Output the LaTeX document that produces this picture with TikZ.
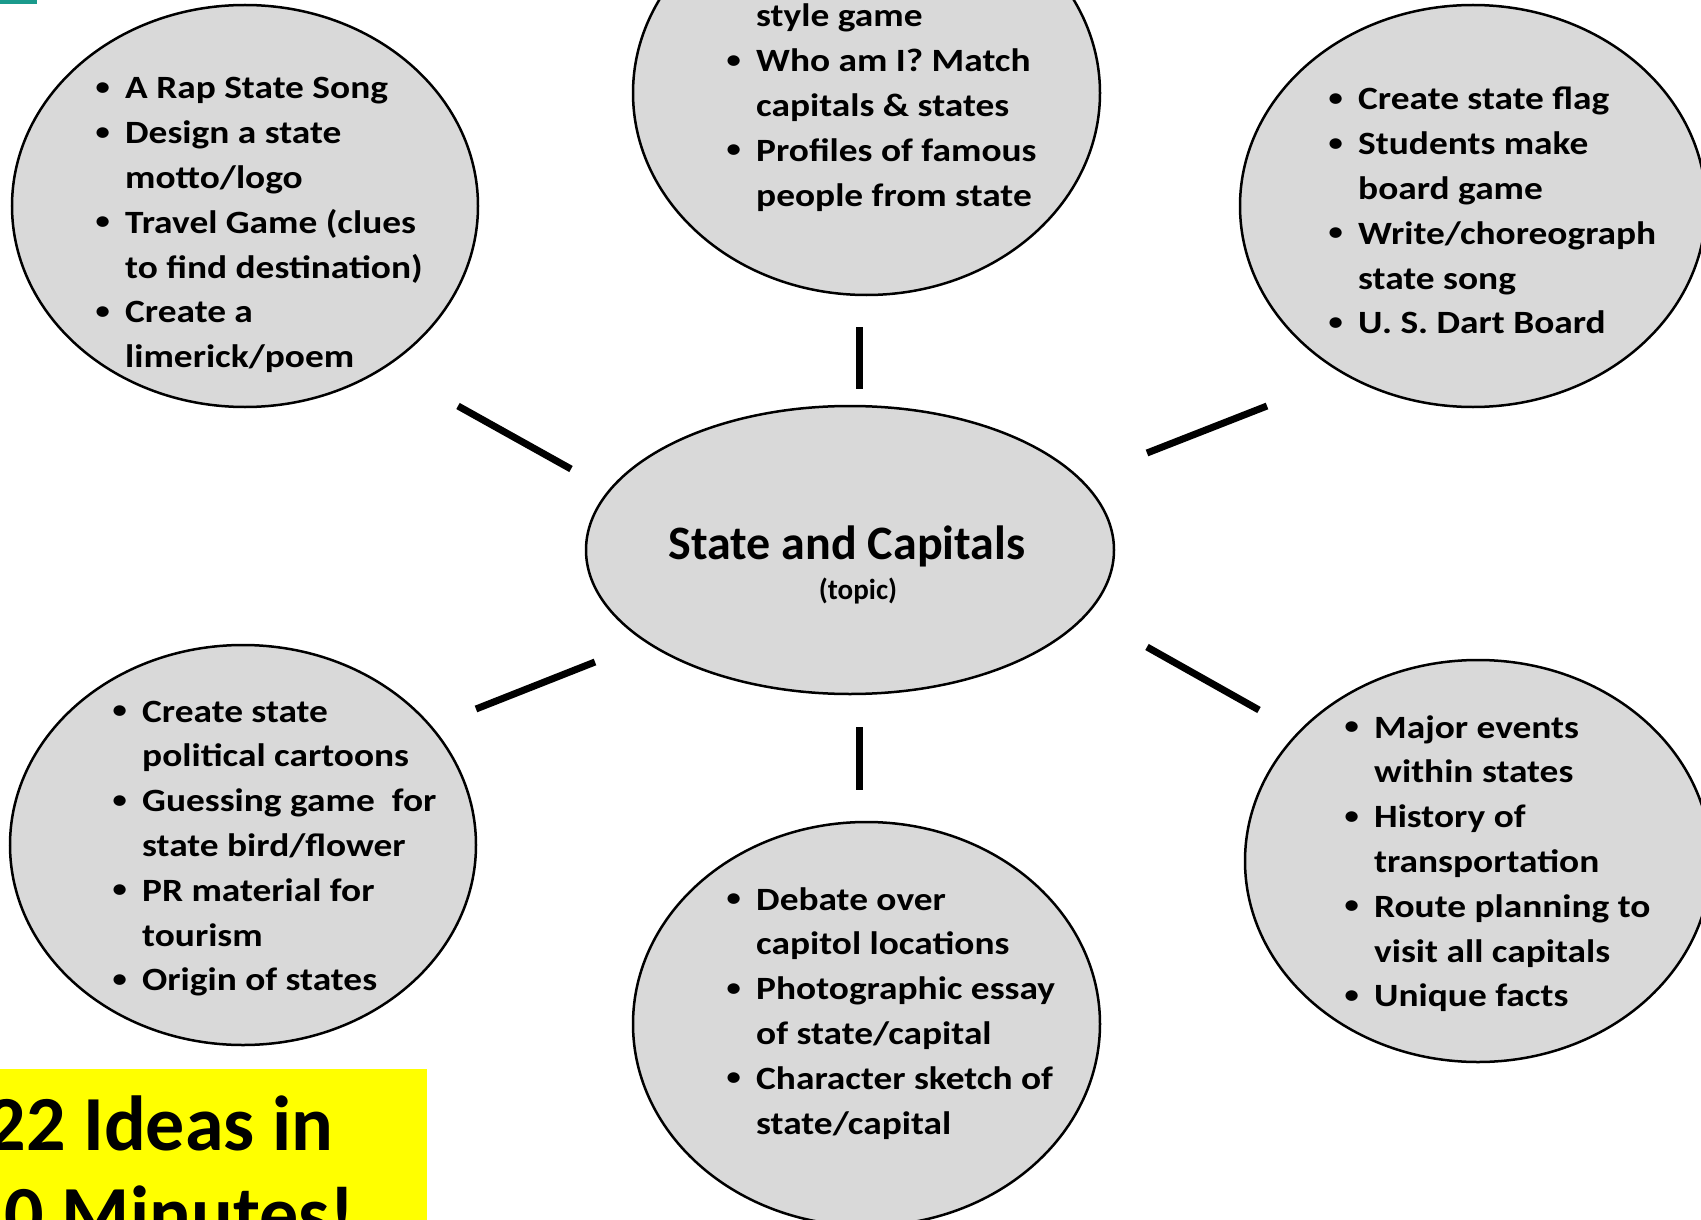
\documentclass[tikz,border=0pt]{standalone}
\usepackage{fontspec}
\setmainfont{Carlito}
\newfontfamily\listfont{Carlito}[FakeStretch=1.15]
\usetikzlibrary{shapes.geometric}
\definecolor{bubblegray}{HTML}{D9D9D9}
\definecolor{tealmark}{RGB}{26,154,140}
\definecolor{hiyellow}{RGB}{255,255,0}
\newenvironment{blist}{\begin{tabular}[t]{@{}p{31pt}@{}l@{}}}{\end{tabular}}
\newcommand{\bul}{\hspace*{0pt}\raisebox{2.5pt}{\fontsize{30}{30}\selectfont\mdseries •}}
\tikzset{
  bubble/.style={ellipse, draw=black, line width=2.5pt, fill=bubblegray, inner sep=0pt, outer sep=0pt},
  spoke/.style={line width=7pt},
  listtext/.style={anchor=base west, inner sep=0pt, font=\listfont\bfseries\fontsize{32.5}{44.8}\selectfont},
}
\begin{document}
\begin{tikzpicture}[x=1pt,y=-1pt]
\useasboundingbox (0,0) rectangle (1701,1220);
\clip (0,0) rectangle (1701,1220);
\fill[white] (0,0) rectangle (1701,1220);
\fill[tealmark] (0,0) rectangle (37,4);

% bubbles
\node[bubble, minimum width=466pt, minimum height=402pt] (tl) at (245,206) {};
\node[bubble, minimum width=467pt, minimum height=404pt] (tc) at (866.5,93) {};
\node[bubble, minimum width=466pt, minimum height=402pt] (tr) at (1473,206) {};
\node[bubble, minimum width=528pt, minimum height=288pt] (c) at (850,550) {};
\node[bubble, minimum width=466pt, minimum height=400pt] (bl) at (243,845) {};
\node[bubble, minimum width=467pt, minimum height=404pt] (bc) at (866.5,1024) {};
\node[bubble, minimum width=466pt, minimum height=402pt] (br) at (1478,861) {};

% center text
\node[anchor=base, inner sep=0pt, font=\bfseries\fontsize{48}{56}\selectfont] (title) at (847,559) {State and Capitals};
\node[anchor=base, inner sep=0pt, font=\bfseries\fontsize{29}{34}\selectfont] (topic) at (858,599) {(topic)};

% lists
\node[listtext] (tltext) at (94,99) {\begin{blist}
\bul & A Rap State Song\\
\bul & Design a state\\
  & motto/logo\\
\bul & Travel Game (clues\\
  & to find destination)\\
\bul & Create a\\
  & limerick/poem
\end{blist}};

\node[listtext] (tctext) at (725,27) {\begin{blist}
  & style game\\
\bul & Who am I? Match\\
  & capitals \& states\\
\bul & Profiles of famous\\
  & people from state
\end{blist}};

\node[listtext] (trtext) at (1327,110) {\begin{blist}
\bul & Create state flag\\
\bul & Students make\\
  & board game\\
\bul & Write/choreograph\\
  & state song\\
\bul & U. S. Dart Board
\end{blist}};

\node[listtext] (bltext) at (111,722) {\begin{blist}
\bul & Create state\\
  & political cartoons\\
\bul & Guessing game\ \ for\\
  & state bird/flower\\
\bul & PR material for\\
  & tourism\\
\bul & Origin of states
\end{blist}};

\node[listtext] (bctext) at (725,910) {\begin{blist}
\bul & Debate over\\
  & capitol locations\\
\bul & Photographic essay\\
  & of state/capital\\
\bul & Character sketch of\\
  & state/capital
\end{blist}};

\node[listtext] (brtext) at (1343,738) {\begin{blist}
\bul & Major events\\
  & within states\\
\bul & History of\\
  & transportation\\
\bul & Route planning to\\
  & visit all capitals\\
\bul & Unique facts
\end{blist}};

% spokes
\coordinate (s1a) at (458,406); \coordinate (s1b) at (571,469);
\coordinate (s2a) at (859,327); \coordinate (s2b) at (859,389);
\coordinate (s3a) at (1147,453); \coordinate (s3b) at (1267,406);
\coordinate (s4a) at (476,709); \coordinate (s4b) at (595,662);
\coordinate (s5a) at (859,727); \coordinate (s5b) at (859,790);
\coordinate (s6a) at (1147,647); \coordinate (s6b) at (1259,710);
\draw[spoke] (s1a) -- (s1b);
\draw[spoke] (s2a) -- (s2b);
\draw[spoke] (s3a) -- (s3b);
\draw[spoke] (s4a) -- (s4b);
\draw[spoke] (s5a) -- (s5b);
\draw[spoke] (s6a) -- (s6b);

% yellow banner
\fill[hiyellow] (0,1069) rectangle (427,1230);
\node[anchor=base, inner sep=0pt, font=\bfseries\fontsize{78}{90}\selectfont] (banner) at (160,1150) {\begin{tabular}[t]{@{}c@{}}22 Ideas in\\10 Minutes!\end{tabular}};
\end{tikzpicture}
\end{document}
